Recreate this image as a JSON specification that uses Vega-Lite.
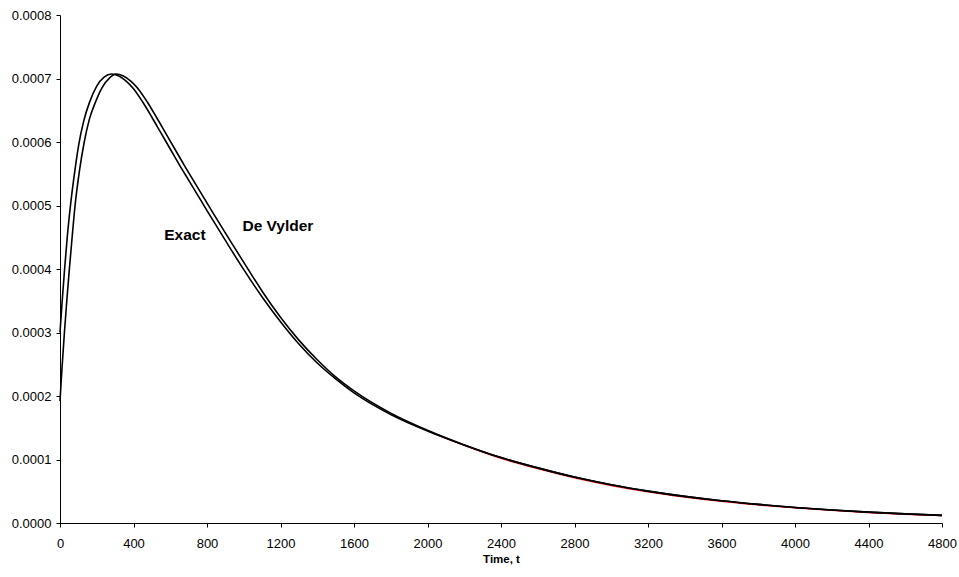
{
  "$schema": "https://vega.github.io/schema/vega-lite/v6.json",
  "width": 882,
  "height": 508,
  "autosize": "none",
  "padding": {"left": 60, "top": 15, "right": 17, "bottom": 54},
  "background": "white",
  "config": {
    "view": {"stroke": null},
    "axis": {"grid": false, "domainColor": "#000000", "tickColor": "#000000", "labelColor": "#000000", "labelFont": "Liberation Sans", "labelFontSize": 13, "titleFont": "Liberation Sans", "titleColor": "#000000", "domainWidth": 1, "tickWidth": 1, "tickSize": 4}
  },
  "datasets": {
    "curves": [
      {"series": "Exact", "t": 0, "v": 0.000300},
      {"series": "Exact", "t": 10, "v": 0.000342},
      {"series": "Exact", "t": 25, "v": 0.000400},
      {"series": "Exact", "t": 40, "v": 0.000452},
      {"series": "Exact", "t": 57, "v": 0.000500},
      {"series": "Exact", "t": 80, "v": 0.000553},
      {"series": "Exact", "t": 102, "v": 0.000596},
      {"series": "Exact", "t": 130, "v": 0.000634},
      {"series": "Exact", "t": 160, "v": 0.000662},
      {"series": "Exact", "t": 200, "v": 0.000688},
      {"series": "Exact", "t": 240, "v": 0.000702},
      {"series": "Exact", "t": 280, "v": 0.000707},
      {"series": "Exact", "t": 320, "v": 0.000704},
      {"series": "Exact", "t": 360, "v": 0.000696},
      {"series": "Exact", "t": 400, "v": 0.000684},
      {"series": "Exact", "t": 450, "v": 0.000663},
      {"series": "Exact", "t": 500, "v": 0.000639},
      {"series": "Exact", "t": 550, "v": 0.000614},
      {"series": "Exact", "t": 600, "v": 0.000589},
      {"series": "Exact", "t": 650, "v": 0.000564},
      {"series": "Exact", "t": 700, "v": 0.000540},
      {"series": "Exact", "t": 750, "v": 0.000516},
      {"series": "Exact", "t": 800, "v": 0.000492},
      {"series": "Exact", "t": 900, "v": 0.000445},
      {"series": "Exact", "t": 1000, "v": 0.000399},
      {"series": "Exact", "t": 1100, "v": 0.000356},
      {"series": "Exact", "t": 1200, "v": 0.000317},
      {"series": "Exact", "t": 1300, "v": 0.000282},
      {"series": "Exact", "t": 1400, "v": 0.000252},
      {"series": "Exact", "t": 1500, "v": 0.000227},
      {"series": "Exact", "t": 1600, "v": 0.000205},
      {"series": "Exact", "t": 1800, "v": 0.000171},
      {"series": "Exact", "t": 2000, "v": 0.000145},
      {"series": "Exact", "t": 2200, "v": 0.000123},
      {"series": "Exact", "t": 2400, "v": 0.000103},
      {"series": "Exact", "t": 2600, "v": 0.0000868},
      {"series": "Exact", "t": 2800, "v": 0.0000723},
      {"series": "Exact", "t": 3000, "v": 0.0000602},
      {"series": "Exact", "t": 3200, "v": 0.0000502},
      {"series": "Exact", "t": 3400, "v": 0.0000419},
      {"series": "Exact", "t": 3600, "v": 0.0000350},
      {"series": "Exact", "t": 3800, "v": 0.0000293},
      {"series": "Exact", "t": 4000, "v": 0.0000245},
      {"series": "Exact", "t": 4200, "v": 0.0000205},
      {"series": "Exact", "t": 4400, "v": 0.0000171},
      {"series": "Exact", "t": 4600, "v": 0.0000143},
      {"series": "Exact", "t": 4800, "v": 0.0000120},
      {"series": "De Vylder", "t": 0, "v": 0.000192},
      {"series": "De Vylder", "t": 10, "v": 0.000240},
      {"series": "De Vylder", "t": 24, "v": 0.000300},
      {"series": "De Vylder", "t": 37, "v": 0.000350},
      {"series": "De Vylder", "t": 51, "v": 0.000400},
      {"series": "De Vylder", "t": 66, "v": 0.000450},
      {"series": "De Vylder", "t": 82, "v": 0.000500},
      {"series": "De Vylder", "t": 105, "v": 0.000553},
      {"series": "De Vylder", "t": 132, "v": 0.000600},
      {"series": "De Vylder", "t": 160, "v": 0.000636},
      {"series": "De Vylder", "t": 192, "v": 0.000662},
      {"series": "De Vylder", "t": 230, "v": 0.000686},
      {"series": "De Vylder", "t": 270, "v": 0.000701},
      {"series": "De Vylder", "t": 305, "v": 0.000707},
      {"series": "De Vylder", "t": 345, "v": 0.000704},
      {"series": "De Vylder", "t": 385, "v": 0.000696},
      {"series": "De Vylder", "t": 425, "v": 0.000684},
      {"series": "De Vylder", "t": 475, "v": 0.000663},
      {"series": "De Vylder", "t": 525, "v": 0.000639},
      {"series": "De Vylder", "t": 575, "v": 0.000614},
      {"series": "De Vylder", "t": 625, "v": 0.000589},
      {"series": "De Vylder", "t": 675, "v": 0.000564},
      {"series": "De Vylder", "t": 725, "v": 0.000540},
      {"series": "De Vylder", "t": 775, "v": 0.000516},
      {"series": "De Vylder", "t": 825, "v": 0.000492},
      {"series": "De Vylder", "t": 925, "v": 0.000445},
      {"series": "De Vylder", "t": 1025, "v": 0.000399},
      {"series": "De Vylder", "t": 1100, "v": 0.000365},
      {"series": "De Vylder", "t": 1200, "v": 0.000324},
      {"series": "De Vylder", "t": 1300, "v": 0.000288},
      {"series": "De Vylder", "t": 1400, "v": 0.000257},
      {"series": "De Vylder", "t": 1500, "v": 0.000230},
      {"series": "De Vylder", "t": 1600, "v": 0.000208},
      {"series": "De Vylder", "t": 1800, "v": 0.000173},
      {"series": "De Vylder", "t": 2000, "v": 0.000146},
      {"series": "De Vylder", "t": 2200, "v": 0.000123},
      {"series": "De Vylder", "t": 2400, "v": 0.000103},
      {"series": "De Vylder", "t": 2600, "v": 0.0000868},
      {"series": "De Vylder", "t": 2800, "v": 0.0000723},
      {"series": "De Vylder", "t": 3000, "v": 0.0000602},
      {"series": "De Vylder", "t": 3200, "v": 0.0000502},
      {"series": "De Vylder", "t": 3400, "v": 0.0000419},
      {"series": "De Vylder", "t": 3600, "v": 0.0000350},
      {"series": "De Vylder", "t": 3800, "v": 0.0000293},
      {"series": "De Vylder", "t": 4000, "v": 0.0000245},
      {"series": "De Vylder", "t": 4200, "v": 0.0000205},
      {"series": "De Vylder", "t": 4400, "v": 0.0000171},
      {"series": "De Vylder", "t": 4600, "v": 0.0000143},
      {"series": "De Vylder", "t": 4800, "v": 0.0000120}
    ],
    "red": [
      {"series": "Other", "t": 2000, "v": 0.000145},
      {"series": "Other", "t": 2200, "v": 0.0001222},
      {"series": "Other", "t": 2400, "v": 0.0001018},
      {"series": "Other", "t": 2600, "v": 0.0000856},
      {"series": "Other", "t": 2800, "v": 0.0000712},
      {"series": "Other", "t": 3000, "v": 0.0000592},
      {"series": "Other", "t": 3200, "v": 0.0000492},
      {"series": "Other", "t": 3400, "v": 0.0000410},
      {"series": "Other", "t": 3600, "v": 0.0000342},
      {"series": "Other", "t": 3800, "v": 0.0000286},
      {"series": "Other", "t": 4000, "v": 0.0000239},
      {"series": "Other", "t": 4200, "v": 0.0000200},
      {"series": "Other", "t": 4400, "v": 0.0000166},
      {"series": "Other", "t": 4600, "v": 0.0000139},
      {"series": "Other", "t": 4800, "v": 0.0000118}
    ],
    "labels": [
      {"label": "Exact", "t": 680, "v": 0.000453},
      {"label": "De Vylder", "t": 1186, "v": 0.000467}
    ]
  },
  "encoding": {
    "x": {"field": "t", "type": "quantitative", "scale": {"domain": [0, 4800], "nice": false, "zero": false},
      "axis": {"values": [0,400,800,1200,1600,2000,2400,2800,3200,3600,4000,4400,4800], "format": "d", "title": "Time, t", "titleFontSize": 11.5, "titleFontWeight": "bold", "labelPadding": 10, "titlePadding": 3, "labelFlush": false}},
    "y": {"field": "v", "type": "quantitative", "scale": {"domain": [0, 0.0008], "nice": false},
      "axis": {"values": [0,0.0001,0.0002,0.0003,0.0004,0.0005,0.0006,0.0007,0.0008], "format": ".4f", "title": null, "labelPadding": 5, "labelFlush": false}}
  },
  "layer": [
    {
      "data": {"name": "red"},
      "mark": {"type": "line", "color": "#ff0000", "strokeWidth": 1.5, "interpolate": "monotone"},
      "encoding": {"detail": {"field": "series"}}
    },
    {
      "data": {"name": "curves"},
      "mark": {"type": "line", "color": "#000000", "strokeWidth": 1.6, "interpolate": "monotone"},
      "encoding": {"detail": {"field": "series"}}
    },
    {
      "data": {"name": "labels"},
      "mark": {"type": "text", "font": "Liberation Sans", "fontSize": 15.5, "fontWeight": "bold", "color": "#000000", "align": "center", "baseline": "middle"},
      "encoding": {"text": {"field": "label"}}
    }
  ]
}
